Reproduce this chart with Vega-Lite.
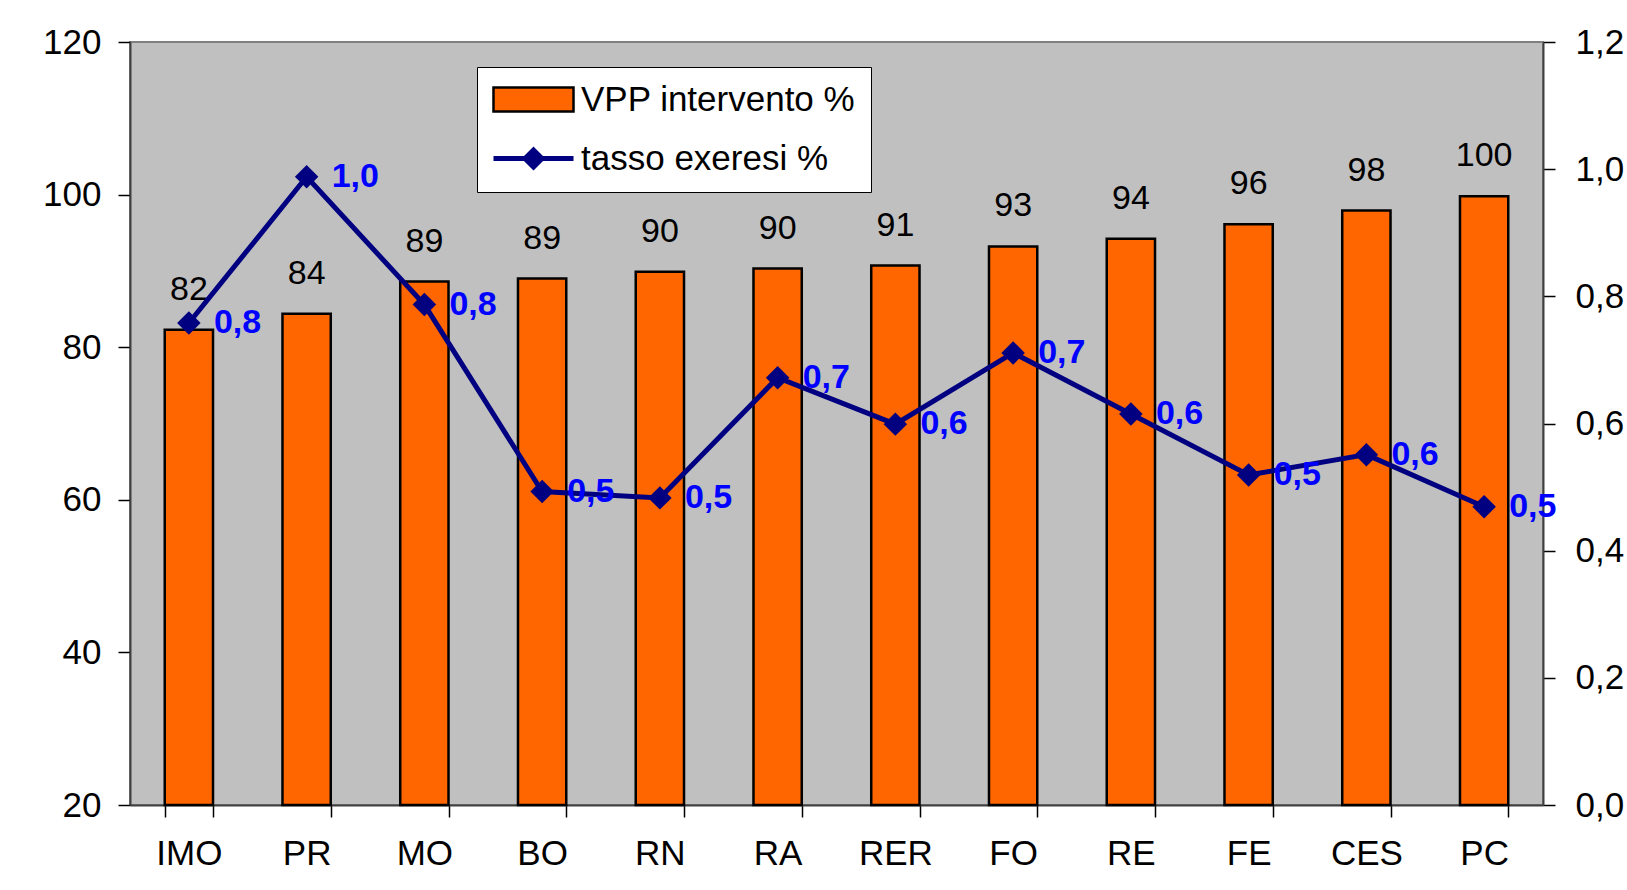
{
  "$schema": "https://vega.github.io/schema/vega-lite/v6.json",
  "width": 1413,
  "height": 763,
  "autosize": {"type": "none"},
  "padding": {"left": 130, "top": 42, "right": 84, "bottom": 85},
  "background": "white",
  "config": {
    "locale": {"number": {"decimal": ",", "thousands": ".", "grouping": [3], "currency": ["", " €"]}},
    "font": "Liberation Sans",
    "view": {"fill": "#c0c0c0", "stroke": "#808080", "strokeWidth": 2},
    "axis": {
      "labelFont": "Liberation Sans",
      "labelFontSize": 35,
      "labelColor": "black",
      "domainColor": "#404040",
      "domainWidth": 2,
      "tickColor": "black",
      "tickSize": 12,
      "tickWidth": 1.5,
      "grid": false,
      "title": null
    }
  },
  "data": {
    "values": [
      {"area": "IMO", "vpp": 82.3, "tasso": 0.758},
      {"area": "PR", "vpp": 84.4, "tasso": 0.988},
      {"area": "MO", "vpp": 88.6, "tasso": 0.787},
      {"area": "BO", "vpp": 89.0, "tasso": 0.493},
      {"area": "RN", "vpp": 89.9, "tasso": 0.483},
      {"area": "RA", "vpp": 90.3, "tasso": 0.672},
      {"area": "RER", "vpp": 90.7, "tasso": 0.599},
      {"area": "FO", "vpp": 93.2, "tasso": 0.711},
      {"area": "RE", "vpp": 94.2, "tasso": 0.615},
      {"area": "FE", "vpp": 96.1, "tasso": 0.519},
      {"area": "CES", "vpp": 97.9, "tasso": 0.551},
      {"area": "PC", "vpp": 99.8, "tasso": 0.469}
    ]
  },
  "encoding": {
    "x": {
      "field": "area",
      "type": "nominal",
      "sort": null,
      "scale": {"paddingInner": 0.59, "paddingOuter": 0.295},
      "axis": {"labelAngle": 0, "tickBand": "extent", "labelPadding": 19, "title": null}
    }
  },
  "layer": [
    {
      "layer": [
        {
          "mark": {"type": "bar", "stroke": "black", "strokeWidth": 2.5},
          "encoding": {
            "y": {
              "field": "vpp",
              "type": "quantitative",
              "scale": {"domain": [20, 120], "nice": false, "zero": false},
              "axis": {"orient": "left", "values": [20, 40, 60, 80, 100, 120], "labelPadding": 17, "title": null}
            },
            "y2": {"datum": 20},
            "color": {
              "datum": "VPP intervento %",
              "type": "nominal",
              "scale": {"domain": ["VPP intervento %", "tasso exeresi %"], "range": ["#ff6600", "#000080"]},
              "legend": {
                "orient": "none",
                "legendX": 347,
                "legendY": 25,
                "title": null,
                "fillColor": "white",
                "strokeColor": "black",
                "padding": 15,
                "labelFont": "Liberation Sans",
                "labelFontSize": 35,
                "labelColor": "black",
                "labelLimit": 500,
                "labelOffset": 30,
                "symbolSize": 900,
                "symbolOffset": 24,
                "rowPadding": 23,
                "symbolType": {"expr": "datum.value === 'VPP intervento %' ? 'M-2.667,-0.8H2.667V0.8H-2.667Z' : 'M-2.667,-0.167H2.667V0.167H-2.667ZM0,-0.8L0.8,0L0,0.8L-0.8,0Z'"},
                "symbolStrokeColor": "black",
                "symbolStrokeWidth": {"expr": "datum.value === 'VPP intervento %' ? 2.5 : 0"},
                "symbolOpacity": 1
              }
            }
          }
        },
        {
          "mark": {"type": "text", "baseline": "alphabetic", "dy": -30, "fontSize": 34, "color": "black", "font": "Liberation Sans"},
          "encoding": {
            "y": {"field": "vpp", "type": "quantitative"},
            "text": {"field": "vpp", "type": "quantitative", "format": ".0f"}
          }
        }
      ]
    },
    {
      "layer": [
        {
          "mark": {"type": "line", "strokeWidth": 5, "color": "#000080"},
          "encoding": {
            "y": {
              "field": "tasso",
              "type": "quantitative",
              "scale": {"domain": [0, 1.2], "nice": false},
              "axis": {"orient": "right", "values": [0, 0.2, 0.4, 0.6, 0.8, 1.0, 1.2], "format": ".1f", "labelPadding": 20, "title": null}
            }
          }
        },
        {
          "mark": {"type": "point", "shape": "diamond", "size": 550, "filled": true, "opacity": 1},
          "encoding": {
            "y": {"field": "tasso", "type": "quantitative"},
            "color": {"datum": "tasso exeresi %", "type": "nominal"}
          }
        },
        {
          "mark": {"type": "text", "align": "left", "baseline": "middle", "dx": 25, "fontSize": 34, "fontWeight": "bold", "color": "#0000ff", "font": "Liberation Sans"},
          "encoding": {
            "y": {"field": "tasso", "type": "quantitative"},
            "text": {"field": "tasso", "type": "quantitative", "format": ".1f"}
          }
        }
      ]
    }
  ],
  "resolve": {"scale": {"y": "independent"}}
}
